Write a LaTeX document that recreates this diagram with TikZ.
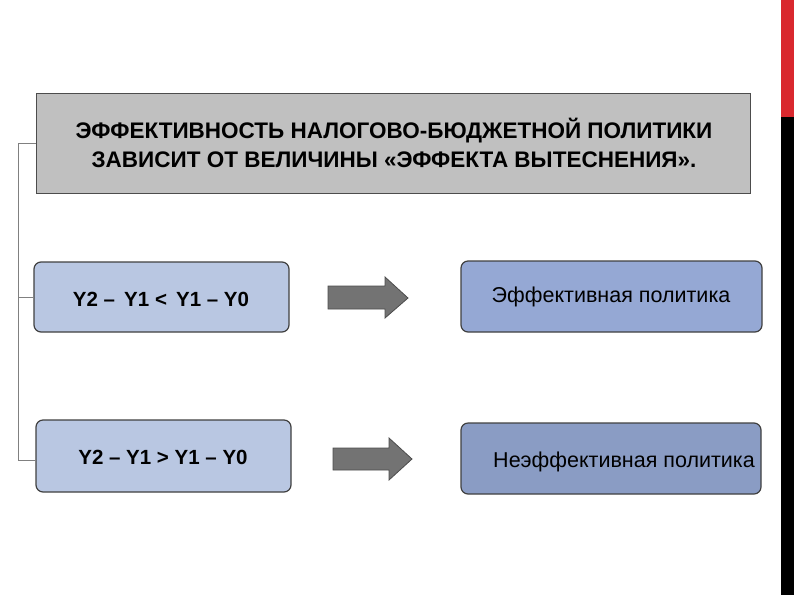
\documentclass[tikz,border=0pt]{standalone}
\usepackage{fontspec}
\setmainfont{Liberation Sans}
\definecolor{topgray}{HTML}{C0C0C0}
\definecolor{lblue}{HTML}{B9C7E2}
\definecolor{mblue}{HTML}{95A8D4}
\definecolor{dblue}{HTML}{8A9CC4}
\definecolor{redbar}{HTML}{D9282E}
\begin{document}
\begin{tikzpicture}[x=1pt,y=-1pt,
  rbox/.style={draw=black!75,line width=1.2pt,rounded corners=7pt},
  garrow/.style={draw=black!70,fill=black!55,line width=0.8pt},
  txt/.style={font=\bfseries\fontsize{20.5}{26}\selectfont},
  ttxt/.style={font=\bfseries\fontsize{22.5}{29}\selectfont},
  rtxt/.style={font=\fontsize{21.5}{26}\selectfont}]
\useasboundingbox (0,0) rectangle (794,595);
\fill[redbar] (781,0) rectangle (794,117);
\fill[black] (781,117) rectangle (794,595);
\draw[draw=black!70,line width=1pt,fill=topgray] (36,93) rectangle (750,193);
\node[ttxt,align=center] (top) at (394,143) {ЭФФЕКТИВНОСТЬ НАЛОГОВО-БЮДЖЕТНОЙ ПОЛИТИКИ\\ЗАВИСИТ ОТ ВЕЛИЧИНЫ «ЭФФЕКТА ВЫТЕСНЕНИЯ».};
\draw[rbox,fill=lblue] (34,262) rectangle (289,332);
\node[txt] (c1) at (161,299) {Y2 –\, Y1 <\, Y1 – Y0};
\draw[rbox,fill=lblue] (36,420) rectangle (291,492);
\node[txt] (c2) at (163,457) {Y2 – Y1 > Y1 – Y0};
\draw[rbox,fill=mblue] (461,261) rectangle (762,332);
\node[rtxt] (r1) at (611,297) {Эффективная политика};
\draw[rbox,fill=dblue] (461,423) rectangle (761,494);
\node[rtxt] (r2) at (624,462) {Неэффективная политика};
\draw[garrow] (328,286) -- (385,286) -- (385,277) -- (408,298) -- (385,318) -- (385,309) -- (328,309) -- cycle;
\draw[garrow] (333,448) -- (389,448) -- (389,438) -- (412,459) -- (389,480) -- (389,470) -- (333,470) -- cycle;
\coordinate (b0) at (18,143);
\coordinate (b1) at (18,297);
\coordinate (b2) at (18,460);
\draw[black!50,line width=0.8pt] (36,143) -- (b0) -- (b2) -- (36,460);
\draw[black!50,line width=0.8pt] (b1) -- (34,297);
\end{tikzpicture}
\end{document}
